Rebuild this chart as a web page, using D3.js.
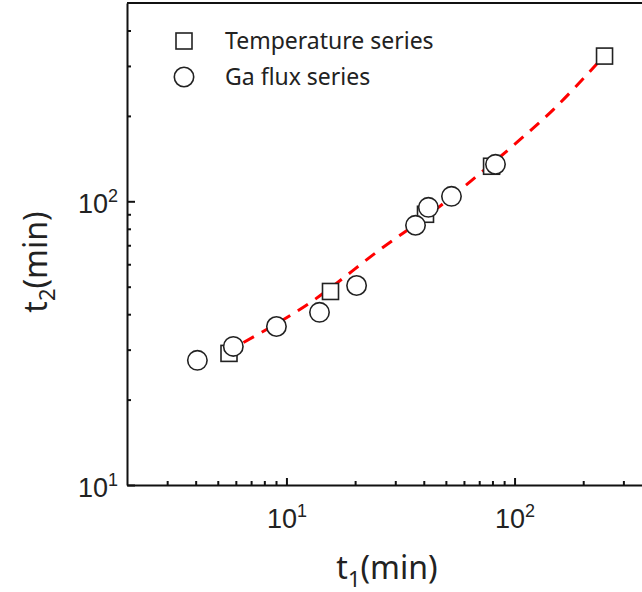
<!DOCTYPE html>
<html>
<head>
<meta charset="utf-8">
<script src="https://cdn.jsdelivr.net/npm/d3@7"></script>
<style>
  body { margin: 0; background: #fff; }
  svg { display: block; font-family: "Noto Sans", "Open Sans", sans-serif; }
</style>
</head>
<body>
<svg id="chart" width="642" height="592"></svg>
<script>
// data
const tempT1 = [5.6, 15.6, 40.7, 79.3, 248];
const tempT2 = [29.1, 48.1, 90.0, 132.9, 325];
const gaT1 = [4.07, 5.85, 9.04, 13.96, 20.3, 36.8, 41.9, 52.9, 82.5];
const gaT2 = [27.5, 30.8, 36.2, 40.6, 50.5, 82.3, 95.2, 104.1, 135];
const fitT1 = [6.48, 12.74, 25.8, 46.4, 64.1, 106.2, 148.3, 231];
const fitT2 = [31.8, 44.0, 67.7, 95.2, 117.6, 165.5, 211, 307];
const xMajor = [10, 100];
const yMajor = [10, 100];
const xMinor = [3, 4, 5, 6, 7, 8, 9, 20, 30, 40, 50, 60, 70, 80, 90, 200, 300, 400];
const yMinor = [20, 30, 40, 50, 60, 70, 80, 90, 200, 300, 400];
const legendLabels = ["Temperature series", "Ga flux series"];

const svg = d3.select("#chart");
const plotLeft = 127, plotRight = 674, plotTop = 3, plotBottom = 485;

const x = d3.scaleLog().domain([2, 500]).range([plotLeft, plotRight]);
const y = d3.scaleLog().domain([10, 500]).range([plotBottom, plotTop]);

// top frame line
svg.append("line")
  .attr("x1", plotLeft).attr("x2", plotRight).attr("y1", plotTop).attr("y2", plotTop)
  .attr("stroke", "#111").attr("stroke-width", 2);

// x axis
const xg = svg.append("g").attr("transform", "translate(0," + plotBottom + ")");
xg.call(d3.axisBottom(x).tickValues(xMajor).tickSize(-7).tickSizeOuter(0).tickFormat(""));
xg.append("g").call(d3.axisBottom(x).tickValues(xMinor).tickSize(-4).tickFormat(""))
  .select(".domain").remove();
xg.selectAll("path, line").attr("stroke", "#111").attr("stroke-width", 2);

xg.selectAll(".tick").filter(d => xMajor.includes(d)).each(function (d) {
  const t = d3.select(this).append("text")
    .attr("y", 43).attr("text-anchor", "middle").attr("fill", "#222")
    .attr("font-size", 27);
  t.append("tspan").text("10");
  t.append("tspan").attr("dy", -11).attr("font-size", 18).text(Math.round(Math.log10(d)));
});

// y axis
const yg = svg.append("g").attr("transform", "translate(" + plotLeft + ",0)");
yg.call(d3.axisLeft(y).tickValues(yMajor).tickSize(-8).tickSizeOuter(0).tickFormat(""));
yg.append("g").call(d3.axisLeft(y).tickValues(yMinor).tickSize(-4).tickFormat(""))
  .select(".domain").remove();
yg.selectAll("path, line").attr("stroke", "#111").attr("stroke-width", 2);

yg.selectAll(".tick").filter(d => yMajor.includes(d)).each(function (d) {
  const t = d3.select(this).append("text")
    .attr("x", -9).attr("y", 11).attr("text-anchor", "end").attr("fill", "#222")
    .attr("font-size", 27);
  t.append("tspan").text("10");
  t.append("tspan").attr("dy", -11).attr("font-size", 18).text(Math.round(Math.log10(d)));
});

// axis titles
const xt = svg.append("text").attr("x", 387).attr("y", 579)
  .attr("text-anchor", "middle").attr("font-size", 32).attr("fill", "#222");
xt.append("tspan").text("t");
xt.append("tspan").attr("dy", 8).attr("font-size", 22).text("1");
xt.append("tspan").attr("dy", -8).text("(min)");

const yt = svg.append("text")
  .attr("transform", "translate(47,262) rotate(-90)")
  .attr("text-anchor", "middle").attr("font-size", 32).attr("fill", "#222");
yt.append("tspan").text("t");
yt.append("tspan").attr("dy", 8).attr("font-size", 22).text("2");
yt.append("tspan").attr("dy", -8).text("(min)");

// dashed fit line
const fit = fitT1.map((d, i) => [d, fitT2[i]]);
svg.append("path")
  .datum(fit)
  .attr("d", d3.line().x(d => x(d[0])).y(d => y(d[1])).curve(d3.curveMonotoneX))
  .attr("fill", "none").attr("stroke", "#ff0000").attr("stroke-width", 3)
  .attr("stroke-dasharray", "12,9");

// temperature series (squares)
const sq = 16;
svg.selectAll(".sq")
  .data(tempT1.map((d, i) => [d, tempT2[i]]))
  .enter().append("rect")
  .attr("x", d => x(d[0]) - sq / 2).attr("y", d => y(d[1]) - sq / 2)
  .attr("width", sq).attr("height", sq)
  .attr("fill", "#fff").attr("stroke", "#222").attr("stroke-width", 1.6);

// Ga flux series (circles), drawn over the squares
svg.selectAll(".ci")
  .data(gaT1.map((d, i) => [d, gaT2[i]]))
  .enter().append("circle")
  .attr("cx", d => x(d[0])).attr("cy", d => y(d[1])).attr("r", 9.7)
  .attr("fill", "#fff").attr("stroke", "#222").attr("stroke-width", 1.6);

// legend
const lg = svg.append("g");
lg.append("rect").attr("x", 176).attr("y", 33).attr("width", sq).attr("height", sq)
  .attr("fill", "none").attr("stroke", "#222").attr("stroke-width", 1.6);
lg.append("circle").attr("cx", 184).attr("cy", 77).attr("r", 9.7)
  .attr("fill", "none").attr("stroke", "#222").attr("stroke-width", 1.6);
lg.selectAll(".lt").data(legendLabels).enter().append("text")
  .attr("x", 225).attr("y", (d, i) => 49 + i * 36)
  .attr("font-size", 23).attr("fill", "#222").text(d => d);
</script>
</body>
</html>
